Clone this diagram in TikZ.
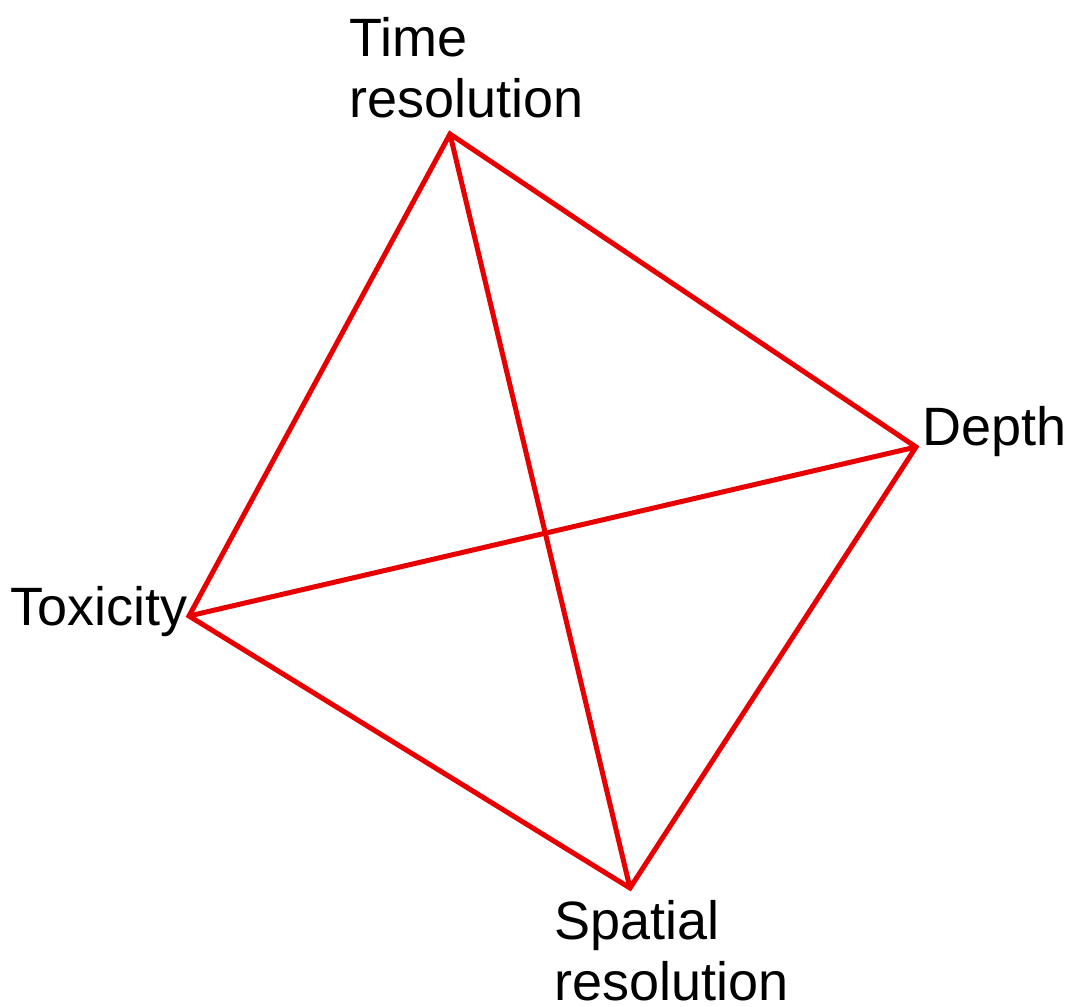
\documentclass[tikz,border=0pt]{standalone}
\usepackage{fontspec}
\setmainfont{Liberation Sans}
\definecolor{edgered}{RGB}{232,0,0}
\begin{document}
\begin{tikzpicture}[x=1pt,y=-1pt,
  edge/.style={draw=edgered,line width=5pt,line join=miter},
  lbl/.style={inner sep=0pt,font=\fontsize{54}{61}\selectfont,align=left,anchor=base west}]
\useasboundingbox (0,0) rectangle (1072,1007);
% vertices of the tetrahedron
\coordinate (time) at (450,134);
\coordinate (depth) at (916,447);
\coordinate (tox) at (189,616);
\coordinate (spat) at (630,888);
% edges
\draw[edge] (time) -- (depth) -- (spat) -- (tox) -- cycle;
\draw[edge] (time) -- (spat);
\draw[edge] (tox) -- (depth);
% labels (anchored at the baseline of the last line)
\node[lbl] (ltime) at (349,117) {Time\\resolution};
\node[lbl] (ldepth) at (922,445) {Depth};
\node[lbl] (ltox) at (10,625) {Toxicity};
\node[lbl] (lspat) at (554,1000) {Spatial\\resolution};
\end{tikzpicture}
\end{document}
